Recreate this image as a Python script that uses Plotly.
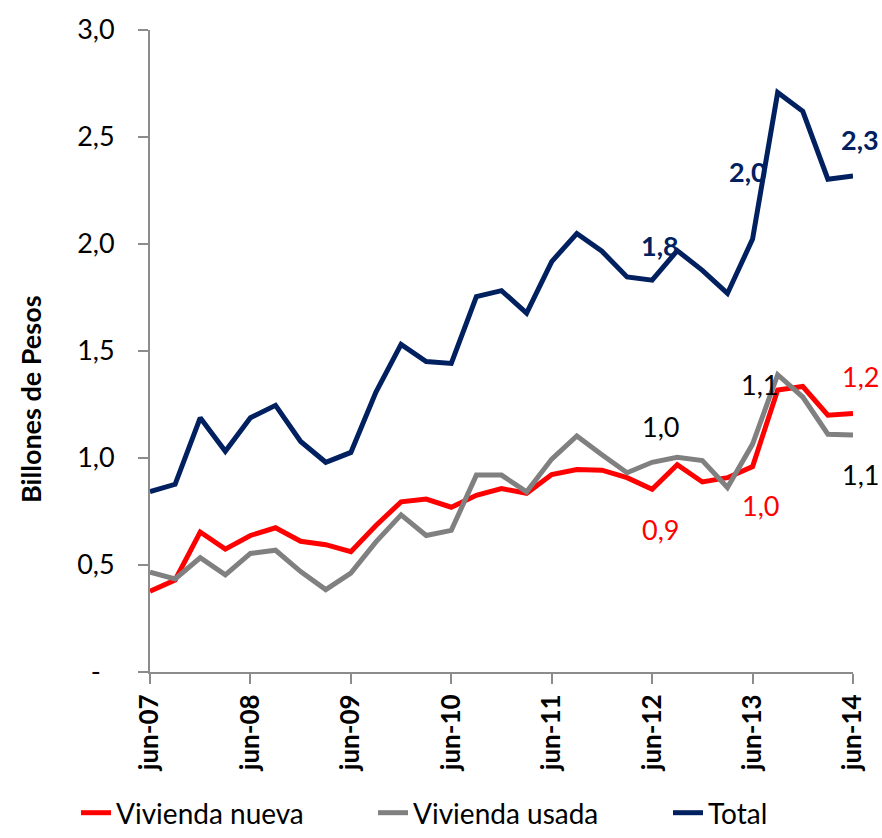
import plotly.graph_objects as go

# ---- data (quarterly, jun-07 .. jun-14) ----
periods = ["jun-07", "sep-07", "dic-07", "mar-08", "jun-08", "sep-08", "dic-08", "mar-09",
           "jun-09", "sep-09", "dic-09", "mar-10", "jun-10", "sep-10", "dic-10", "mar-11",
           "jun-11", "sep-11", "dic-11", "mar-12", "jun-12", "sep-12", "dic-12", "mar-13",
           "jun-13", "sep-13", "dic-13", "mar-14", "jun-14"]

vivienda_nueva = [0.377, 0.43, 0.654, 0.574, 0.638, 0.674, 0.611, 0.595,
                  0.562, 0.685, 0.795, 0.808, 0.77, 0.826, 0.857, 0.835,
                  0.923, 0.946, 0.943, 0.908, 0.854, 0.969, 0.888, 0.908,
                  0.96, 1.318, 1.334, 1.2, 1.208]

vivienda_usada = [0.466, 0.435, 0.534, 0.454, 0.554, 0.569, 0.469, 0.385,
                  0.462, 0.608, 0.734, 0.638, 0.662, 0.92, 0.92, 0.842,
                  0.995, 1.103, 1.015, 0.931, 0.98, 1.003, 0.988, 0.862,
                  1.065, 1.389, 1.285, 1.111, 1.108]

total = [0.843, 0.877, 1.188, 1.031, 1.188, 1.246, 1.077, 0.98,
         1.026, 1.308, 1.531, 1.451, 1.442, 1.754, 1.782, 1.677,
         1.918, 2.049, 1.966, 1.846, 1.831, 1.969, 1.877, 1.769,
         2.023, 2.708, 2.62, 2.303, 2.318]

x_tick_labels = ["jun-07", "jun-08", "jun-09", "jun-10", "jun-11", "jun-12", "jun-13", "jun-14"]
y_tick_values = [0, 0.5, 1.0, 1.5, 2.0, 2.5, 3.0]
y_tick_labels = ["-\u00a0\u00a0", "0,5", "1,0", "1,5", "2,0", "2,5", "3,0"]

label_points = [20, 24, 28]  # indices with data labels

series_names = ["Vivienda nueva", "Vivienda usada", "Total"]
colors = ["#FF0000", "#808080", "#002060"]

FONT = "Lato, 'Open Sans', sans-serif"

x_idx = list(range(len(periods)))
tick_idx = [i for i, p in enumerate(periods) if p.startswith("jun")]

fig = go.Figure()
legend_widths = [252, 250, 65]
for name, vals, col, w, lw in zip(series_names, [vivienda_nueva, vivienda_usada, total],
                                  colors, [5, 5, 5], legend_widths):
    fig.add_trace(go.Scatter(
        x=x_idx, y=vals, mode="lines", name=name,
        line=dict(color=col, width=w), cliponaxis=False, legendwidth=lw,
        customdata=periods, hovertemplate="%{customdata}: %{y:.2f}<extra>" + name + "</extra>",
    ))

def fmt(v):
    return f"{v:.1f}".replace(".", ",")

# label offsets (px) per series per label index
offsets = {
    "Vivienda nueva": {20: (8, -40), 24: (8, -39), 28: (7, 37)},
    "Vivienda usada": {20: (8, 36), 24: (7, 60), 28: (7, -40)},
    "Total": {20: (8, 35), 24: (-5, 68), 28: (7, 36)},
}
label_colors = {"Vivienda nueva": "#FF0000", "Vivienda usada": "#000000", "Total": "#002060"}
label_bold = {"Vivienda nueva": False, "Vivienda usada": False, "Total": True}

annotations = []
for name, vals in zip(series_names, [vivienda_nueva, vivienda_usada, total]):
    for i in label_points:
        dx, dy = offsets[name][i]
        txt = fmt(vals[i])
        if label_bold[name]:
            txt = "<b>" + txt + "</b>"
        annotations.append(dict(
            x=i, y=vals[i], xref="x", yref="y", text=txt, showarrow=False,
            xshift=dx, yshift=dy, xanchor="center", yanchor="middle",
            font=dict(family=FONT, size=27, color=label_colors[name]),
        ))

# y-axis title
annotations.append(dict(
    x=-0.171, y=0.425, xref="paper", yref="paper", text="<b>Billones de Pesos</b>",
    textangle=-90, showarrow=False, xanchor="center", yanchor="middle",
    font=dict(family=FONT, size=27, color="#000000"),
))

fig.update_layout(
    width=882, height=838,
    margin=dict(l=150, r=29, t=21, b=166),
    paper_bgcolor="white", plot_bgcolor="white",
    font=dict(family=FONT, color="#000000"),
    showlegend=True,
    legend=dict(
        orientation="h", xref="container", yref="container",
        x=76 / 882, xanchor="left", y=0.0, yanchor="bottom",
        font=dict(family=FONT, size=28, color="#000000"),
        bgcolor="rgba(0,0,0,0)", tracegroupgap=0,
    ),
    annotations=annotations,
    xaxis=dict(
        range=[0, 28], tickmode="array", tickvals=tick_idx, ticktext=x_tick_labels,
        tickangle=-90, ticks="outside", ticklen=10, tickwidth=2, tickcolor="#8c8c8c",
        showline=True, linecolor="#8c8c8c", linewidth=2, showgrid=False, zeroline=False,
        tickfont=dict(family=FONT, size=26, color="#000000", weight="bold"),
    ),
    yaxis=dict(
        range=[0, 3], tickmode="array", tickvals=y_tick_values, ticktext=y_tick_labels,
        ticks="outside", ticklen=10, tickwidth=2, tickcolor="#8c8c8c",
        showline=True, linecolor="#8c8c8c", linewidth=2, showgrid=False, zeroline=False,
        tickfont=dict(family=FONT, size=27, color="#000000"),
        ticklabelstandoff=18,
    ),
)

fig.write_html("out.html", config={"displayModeBar": False},
               post_script="document.body.style.margin='0';")
